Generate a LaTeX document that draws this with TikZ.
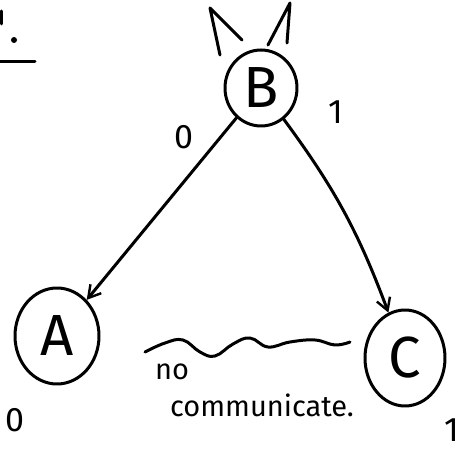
\documentclass[tikz,border=0pt]{standalone}
\usepackage{fontspec}
\setmainfont{Fira Sans}
\usetikzlibrary{shapes.geometric,arrows.meta}
\begin{document}
\begin{tikzpicture}[x=1pt,y=-1pt,line width=3pt,line cap=round,line join=round,
  st/.style={draw,ellipse,inner sep=0pt},
  big/.style={font=\fontsize{58}{58}\selectfont},
  lbl/.style={font=\fontsize{34}{34}\selectfont,inner sep=0pt},
  txt/.style={font=\fontsize{29}{29}\selectfont,inner sep=0pt},
  arr/.style={-{Straight Barb[length=12pt,width=14pt,line width=2.4pt]}}]
\useasboundingbox (0,0) rectangle (459,449);
% top-left fragment
\draw (1,11) -- (1,24);
\fill (14,40) circle (3);
\draw (0,62) -- (35,62);
% states
\node[st,minimum width=72pt,minimum height=76pt,big] (B) at (261,88) {B};
\node[st,minimum width=84pt,minimum height=96pt,big] (A) at (57,336) {A};
\node[st,minimum width=80pt,minimum height=96pt,big] (C) at (405,358) {C};
% ears
\draw (220,55) -- (210,8) -- (242,40);
\draw (268,45) -- (290,3) -- (287,43);
% arrows
\draw[arr] (B) -- (A);
\draw[arr] (B) to[bend left=8] (C);
% labels
\node[lbl] (l0) at (184,137) {0};
\node[lbl] (l1) at (336,112) {1};
\node[lbl] (a0) at (15,420) {0};
\node[lbl] (c1) at (452,430) {1};
% wavy line
\draw plot[smooth,tension=0.7] coordinates {(145,352) (165,343) (183,340) (200,352) (215,356) (233,344) (250,338) (268,347) (290,342) (315,340) (335,345) (350,342)};
\node[txt] (no) at (172,372) {no};
\node[txt] (com) at (262,405) {communicate.};
\end{tikzpicture}
\end{document}
